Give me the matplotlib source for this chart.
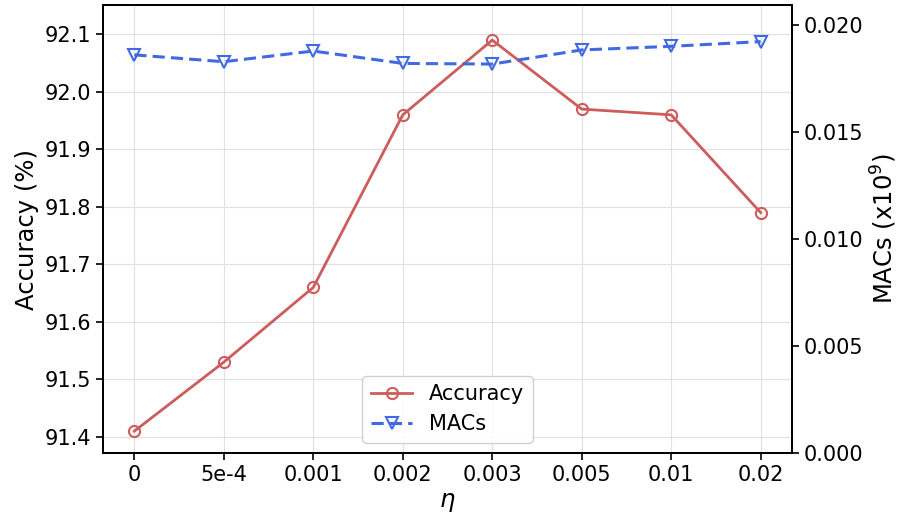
import matplotlib
matplotlib.use("Agg")
import matplotlib.pyplot as plt

eta_labels = ["0", "5e-4", "0.001", "0.002", "0.003", "0.005", "0.01", "0.02"]
accuracy = [91.41, 91.53, 91.66, 91.96, 92.09, 91.97, 91.96, 91.79]
macs = [0.01860, 0.01828, 0.01878, 0.01820, 0.01817, 0.01883, 0.01900, 0.01922]

red = "#cd5c5c"
blue = "#4169e1"

fig = plt.figure(figsize=(9.01, 5.18), dpi=100)
ax = fig.add_axes([103/901, 1-453/518, (792-103)/901, (453-5)/518])
x = list(range(len(eta_labels)))

l1, = ax.plot(x, accuracy, color=red, lw=2, marker="o", markersize=8,
              markerfacecolor="none", markeredgewidth=1.5, label="Accuracy")
ax.set_ylim(91.372, 92.151)
ax.set_yticks([91.4, 91.5, 91.6, 91.7, 91.8, 91.9, 92.0, 92.1])
ax.set_xlim(-0.35, 7.35)
ax.set_xticks(x)
ax.set_xticklabels(eta_labels)
ax.grid(True, color="#e0e0e0", lw=0.8)
ax.set_axisbelow(True)
ax.tick_params(labelsize=15, length=5, width=1.2)
ax.set_ylabel("Accuracy (%)", fontsize=17.5)
ax.set_xlabel(r"$\eta$", fontsize=17.5)

ax2 = ax.twinx()
l2, = ax2.plot(x, macs, color=blue, lw=2.2, ls="--", dashes=(4, 2), marker="v",
               markersize=9, markerfacecolor="none", markeredgewidth=1.5, label="MACs")
ax2.set_ylim(0, 0.02093)
ax2.set_yticks([0.0, 0.005, 0.010, 0.015, 0.020])
ax2.set_yticklabels(["0.000", "0.005", "0.010", "0.015", "0.020"])
ax2.tick_params(labelsize=15, length=5, width=1.2)
ax2.set_ylabel(r"MACs (x10$^9$)", fontsize=17.5)

for a in (ax, ax2):
    for s in a.spines.values():
        s.set_linewidth(1.3)

ax.legend(handles=[l1, l2], loc="lower center", fontsize=15,
          bbox_to_anchor=(0.5, 0.0), framealpha=0.9)

fig.savefig("out.png", dpi=100)
